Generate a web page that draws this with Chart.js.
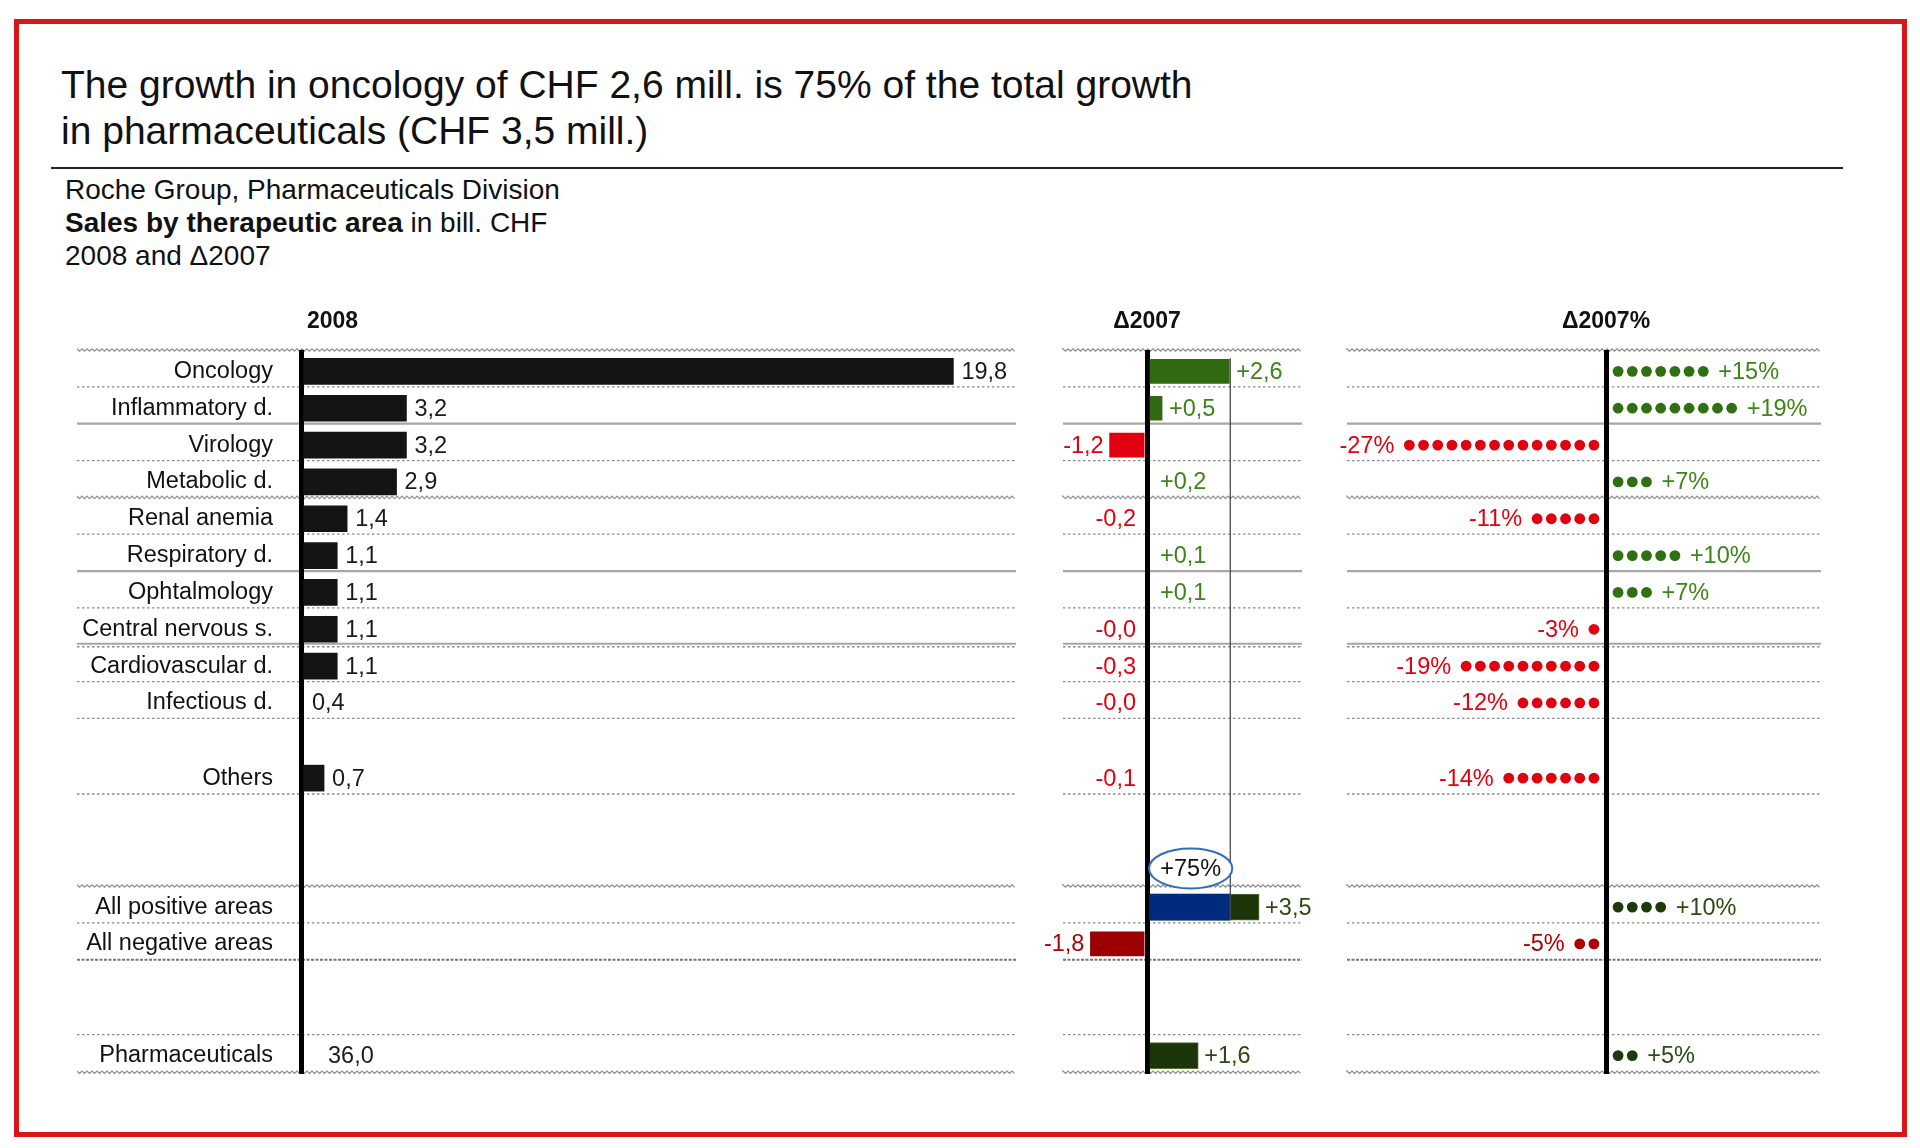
<!DOCTYPE html>
<html>
<head>
<meta charset="utf-8">
<script src="https://cdn.jsdelivr.net/npm/chart.js@4.4.1/dist/chart.umd.min.js"></script>
<style>
html, body { margin: 0; padding: 0; background: #fff; }
#page { position: relative; width: 1920px; height: 1148px; overflow: hidden; font-family: "Liberation Sans", Arial, sans-serif; color: #111; }
#frame { position: absolute; left: 14px; top: 19px; width: 1883px; height: 1108px; border: 5px solid #d71818; }
#title { position: absolute; left: 61px; top: 62px; font-size: 39px; line-height: 46px; white-space: nowrap; }
#rule { position: absolute; left: 51px; top: 167px; width: 1792px; height: 2px; background: #222; }
#sub { position: absolute; left: 65px; top: 173px; font-size: 28px; line-height: 33px; white-space: nowrap; }
canvas { position: absolute; top: 300px; }
#c1 { left: 77px; }
#c2 { left: 1030px; }
#c3 { left: 1330px; }
</style>
</head>
<body>
<div id="page">
  <div id="frame"></div>
  <div id="title">The growth in oncology of CHF 2,6 mill. is 75% of the total growth<br>in pharmaceuticals (CHF 3,5 mill.)</div>
  <div id="rule"></div>
  <div id="sub">Roche Group, Pharmaceuticals Division<br><b>Sales by therapeutic area</b> in bill. CHF<br>2008 and &#916;2007</div>
  <canvas id="c1" width="939" height="790"></canvas>
  <canvas id="c2" width="290" height="790"></canvas>
  <canvas id="c3" width="510" height="790"></canvas>
</div>
<script>
// ---- data ----
const categories = ['Oncology', 'Inflammatory d.', 'Virology', 'Metabolic d.', 'Renal anemia',
    'Respiratory d.', 'Ophtalmology', 'Central nervous s.', 'Cardiovascular d.', 'Infectious d.',
    'Others', 'All positive areas', 'All negative areas', 'Pharmaceuticals'];
// where each row sits on the vertical value axis (in row units, with the group gaps)
const rowAt = [0.58, 1.58, 2.58, 3.58, 4.58, 5.58, 6.58, 7.58, 8.58, 9.58, 11.62, 15.12, 16.12, 19.15];
const sales2008 = [19.8, 3.2, 3.2, 2.9, 1.4, 1.1, 1.1, 1.1, 1.1, 0.4, 0.7, null, null, null];
const pharmaSales2008 = 36.0;
const delta2007 = [2.6, 0.5, -1.2, 0.2, -0.2, 0.1, 0.1, -0.03, -0.3, -0.04, -0.1, 3.5, -1.8, 1.6];
const deltaPct = [15, 19, -27, 7, -11, 10, 7, -3, -19, -12, -14, 10, -5, 5];
const dotCount = [7, 9, 14, 3, 5, 5, 3, 1, 10, 6, 7, 4, 2, 2];
const oncologyShare = 2.6;      // oncology part of "All positive areas"
const oncologyShareLabel = '+75%';
const headers = ['2008', '\u03942007', '\u03942007%'];

// ---- style ----
const FONT = '"Liberation Sans", Arial, sans-serif';
const Y_MAX = 19.65;
const MIN_VISIBLE = 0.45;   // bars smaller than this are not drawn in the original
const TOTAL_FROM = 11;      // rows from here on are the totals (darker colours)
const DOT_START = 0.85;
const C = {
    bar: '#141414', green: '#2f6a12', greenTxt: '#3d8419', darkGreen: '#1c3409', darkGreenTxt: '#2c4a10',
    red: '#e2000e', darkRed: '#9c0000', darkRedTxt: '#b00000', blue: '#002a7c',
    dotGreen: '#2f7012', dotDarkGreen: '#1d3a0b', dotRed: '#e0000e', dotDarkRed: '#b00000'
};
const separators = [[0, 'wave'], [1, 'dot'], [2, 'solid'], [3, 'dot'], [4, 'wave'], [5, 'dot'], [6, 'solid'],
    [7, 'dot'], [8, 'double'], [9, 'dot'], [10, 'dot'], [12.05, 'dot'], [14.55, 'wave'], [15.55, 'dot'],
    [16.55, 'dense'], [18.58, 'dot'], [19.6, 'wave']];

function fmt(v) { return Math.abs(v).toFixed(1).replace('.', ','); }
function signed(v) { return (v < 0 ? '-' : '+') + fmt(v); }

function deltaColor(i, text) {
    const v = delta2007[i], tot = i >= TOTAL_FROM;
    if (v >= 0) return tot ? (text ? C.darkGreenTxt : C.darkGreen) : (text ? C.greenTxt : C.green);
    return tot ? (text ? C.darkRedTxt : C.darkRed) : C.red;
}
function dotColor(i) {
    const tot = i >= TOTAL_FROM;
    if (deltaPct[i] >= 0) return tot ? C.dotDarkGreen : C.dotGreen;
    return tot ? C.dotDarkRed : C.dotRed;
}

function drawSep(ctx, x0, x1, y, style) {
    ctx.save();
    ctx.beginPath();
    if (style === 'wave') {
        ctx.strokeStyle = '#8e8e8e';
        ctx.lineWidth = 1.2;
        let up = true;
        ctx.moveTo(x0, y);
        for (let x = x0; x <= x1; x += 2.5) { ctx.lineTo(x, y + (up ? -1.2 : 1.2)); up = !up; }
        ctx.stroke();
    } else if (style === 'solid') {
        ctx.strokeStyle = '#a6a6a6'; ctx.lineWidth = 2.2;
        ctx.moveTo(x0, y); ctx.lineTo(x1, y); ctx.stroke();
    } else if (style === 'double') {
        ctx.strokeStyle = '#a6a6a6'; ctx.lineWidth = 2;
        ctx.moveTo(x0, y - 1); ctx.lineTo(x1, y - 1); ctx.stroke();
        ctx.beginPath(); ctx.setLineDash([2.5, 2.5]); ctx.strokeStyle = '#8a8a8a'; ctx.lineWidth = 1.3;
        ctx.moveTo(x0, y + 2); ctx.lineTo(x1, y + 2); ctx.stroke();
    } else if (style === 'dense') {
        ctx.setLineDash([3, 1.5]); ctx.strokeStyle = '#777'; ctx.lineWidth = 2;
        ctx.moveTo(x0, y); ctx.lineTo(x1, y); ctx.stroke();
    } else {
        ctx.setLineDash([2.5, 2.5]); ctx.strokeStyle = '#8a8a8a'; ctx.lineWidth = 1.3;
        ctx.moveTo(x0, y); ctx.lineTo(x1, y); ctx.stroke();
    }
    ctx.restore();
}

// separators + header for every panel
const framePlugin = {
    id: 'frame',
    beforeDraw(chart, args, opts) {
        const ctx = chart.ctx, a = chart.chartArea, y = chart.scales.y, x = chart.scales.x;
        const x0 = opts.fromCanvas ? 0 : a.left;
        separators.forEach(s => drawSep(ctx, x0, a.right, y.getPixelForValue(s[0]), s[1]));
        ctx.save();
        ctx.fillStyle = '#111';
        ctx.font = 'bold 23px ' + FONT;
        ctx.textBaseline = 'middle';
        ctx.textAlign = opts.headerAlign;
        ctx.fillText(opts.header, x.getPixelForValue(0) + opts.headerShift, a.top - 28);
        ctx.restore();
    }
};

function yScale(show) {
    return {
        type: 'linear', reverse: true, min: 0, max: Y_MAX, display: show, offset: false,
        grid: { display: false, drawTicks: false, offset: false },
        border: { display: false },
        afterBuildTicks: s => { s.ticks = rowAt.map(v => ({ value: v })); },
        afterFit: s => {
            if (show) s.width = 224;
            s.paddingTop = 0;
            s.paddingBottom = 0;
        },
        ticks: {
            autoSkip: false, padding: 28, color: '#111',
            font: { family: FONT, size: 23.5 },
            callback: (v, i) => categories[i]
        }
    };
}
function xScale(min, max) {
    return {
        type: 'linear', min: min, max: max, offset: false,
        ticks: { display: false, stepSize: 1 },
        border: { display: false },
        grid: { drawTicks: false, lineWidth: 5, offset: false, color: c => (c.tick && c.tick.value === 0) ? '#000' : 'rgba(0,0,0,0)' },
        afterFit: s => { s.height = 0; s.paddingLeft = 0; s.paddingRight = 0; }
    };
}
function baseOptions(pad, header, headerAlign, headerShift, fromCanvas) {
    return {
        responsive: false, animation: false, events: [], devicePixelRatio: 1,
        indexAxis: 'y',
        layout: { padding: { left: pad[0], right: pad[1], top: 50, bottom: 16 } },
        plugins: {
            legend: { display: false }, tooltip: { enabled: false },
            frame: { header: header, headerAlign: headerAlign, headerShift: headerShift, fromCanvas: fromCanvas }
        }
    };
}

// ---- panel 1: sales 2008 ----
const salesLabels = {
    id: 'salesLabels',
    afterDatasetsDraw(chart) {
        const ctx = chart.ctx, x = chart.scales.x, y = chart.scales.y;
        ctx.save();
        ctx.font = '23.5px ' + FONT;
        ctx.fillStyle = '#1a1a1a';
        ctx.textBaseline = 'middle';
        ctx.textAlign = 'left';
        sales2008.forEach((v, i) => {
            if (v === null) return;
            const end = v < MIN_VISIBLE ? x.getPixelForValue(0) + 3 : x.getPixelForValue(v);
            ctx.fillText(fmt(v), end + 8, y.getPixelForValue(rowAt[i]) + 1);
        });
        ctx.fillText(fmt(pharmaSales2008), x.getPixelForValue(0) + 27, y.getPixelForValue(rowAt[13]) + 1);
        ctx.restore();
    }
};
const opt1 = baseOptions([0, 0], headers[0], 'left', 6, true);
opt1.scales = { x: xScale(0, 21.7), y: yScale(true) };
new Chart(document.getElementById('c1'), {
    type: 'bar',
    data: {
        datasets: [{
            data: sales2008.map((v, i) => ({ x: v, y: rowAt[i] })),
            backgroundColor: c => (c.raw && c.raw.x < MIN_VISIBLE) ? 'rgba(0,0,0,0)' : C.bar,
            barThickness: 26, borderWidth: 0
        }]
    },
    options: opt1,
    plugins: [framePlugin, salesLabels]
});

// ---- panel 2: delta 2007 ----
const deltaLabels = {
    id: 'deltaLabels',
    afterDatasetsDraw(chart) {
        const ctx = chart.ctx, x = chart.scales.x, y = chart.scales.y;
        const zero = x.getPixelForValue(0);
        ctx.save();
        // thin guide line at the oncology growth
        const gx = x.getPixelForValue(oncologyShare);
        ctx.strokeStyle = '#4a4a4a'; ctx.lineWidth = 1.3;
        ctx.beginPath();
        ctx.moveTo(gx, y.getPixelForValue(rowAt[0]) - 13);
        ctx.lineTo(gx, y.getPixelForValue(rowAt[11]) + 13);
        ctx.stroke();

        ctx.font = '23.5px ' + FONT;
        ctx.textBaseline = 'middle';
        delta2007.forEach((v, i) => {
            const yy = y.getPixelForValue(rowAt[i]) + 1;
            const small = Math.abs(v) < MIN_VISIBLE;
            ctx.fillStyle = deltaColor(i, true);
            if (v >= 0) {
                ctx.textAlign = 'left';
                ctx.fillText(signed(v), small ? zero + 13 : x.getPixelForValue(v) + 6, yy);
            } else {
                ctx.textAlign = 'right';
                ctx.fillText(signed(v), small ? zero - 11 : x.getPixelForValue(v) - 5, yy);
            }
        });
        // share bubble
        const cx = (zero + gx) / 2 + 2, cy = y.getPixelForValue(rowAt[11] - 1.05);
        ctx.beginPath();
        ctx.ellipse(cx, cy, (gx - zero) / 2, 20, 0, 0, Math.PI * 2);
        ctx.fillStyle = '#fff'; ctx.fill();
        ctx.strokeStyle = '#2b6fc2'; ctx.lineWidth = 2; ctx.stroke();
        ctx.fillStyle = '#111'; ctx.textAlign = 'center';
        ctx.fillText(oncologyShareLabel, cx, cy + 1);
        ctx.restore();
    }
};
const opt2 = baseOptions([33, 18], headers[1], 'center', 0, false);
opt2.scales = { x: xScale(-2.625, 4.84), y: yScale(false) };
new Chart(document.getElementById('c2'), {
    type: 'bar',
    data: {
        datasets: [{
            data: [{ x: oncologyShare, y: rowAt[11] }],
            backgroundColor: C.blue, barThickness: 26, borderWidth: 0, grouped: false, order: 0
        }, {
            data: delta2007.map((v, i) => ({ x: v, y: rowAt[i] })),
            backgroundColor: c => Math.abs(delta2007[c.dataIndex]) < MIN_VISIBLE ? 'rgba(0,0,0,0)' : deltaColor(c.dataIndex, false),
            borderColor: c => (c.dataIndex >= TOTAL_FROM && delta2007[c.dataIndex] > 0) ? '#56722f' : 'rgba(0,0,0,0)',
            borderWidth: 1, barThickness: 26, grouped: false, order: 1
        }]
    },
    options: opt2,
    plugins: [framePlugin, deltaLabels]
});

// ---- panel 3: delta 2007 in %, one dot per step ----
const dotPoints = [], dotColors = [];
dotCount.forEach((n, i) => {
    const s = deltaPct[i] < 0 ? -1 : 1;
    for (let k = 0; k < n; k++) {
        dotPoints.push({ x: s * (k + DOT_START), y: rowAt[i] });
        dotColors.push(dotColor(i));
    }
});
const pctLabels = {
    id: 'pctLabels',
    afterDatasetsDraw(chart) {
        const ctx = chart.ctx, x = chart.scales.x, y = chart.scales.y;
        ctx.save();
        ctx.font = '23.5px ' + FONT;
        ctx.textBaseline = 'middle';
        deltaPct.forEach((p, i) => {
            const s = p < 0 ? -1 : 1;
            const last = x.getPixelForValue(s * (dotCount[i] - 1 + DOT_START));
            ctx.fillStyle = deltaColor(i, true);
            ctx.textAlign = s > 0 ? 'left' : 'right';
            ctx.fillText((p < 0 ? '-' : '+') + Math.abs(p) + '%', last + s * 15, y.getPixelForValue(rowAt[i]) + 1);
        });
        ctx.restore();
    }
};
const opt3 = baseOptions([17, 19], headers[2], 'center', 0, false);
opt3.scales = { x: xScale(-18.24, 15.14), y: yScale(false) };
new Chart(document.getElementById('c3'), {
    type: 'scatter',
    data: {
        datasets: [{
            data: dotPoints, backgroundColor: dotColors, borderWidth: 0,
            pointRadius: 5.4, pointHoverRadius: 5.4, showLine: false
        }]
    },
    options: opt3,
    plugins: [framePlugin, pctLabels]
});
</script>
</body>
</html>
